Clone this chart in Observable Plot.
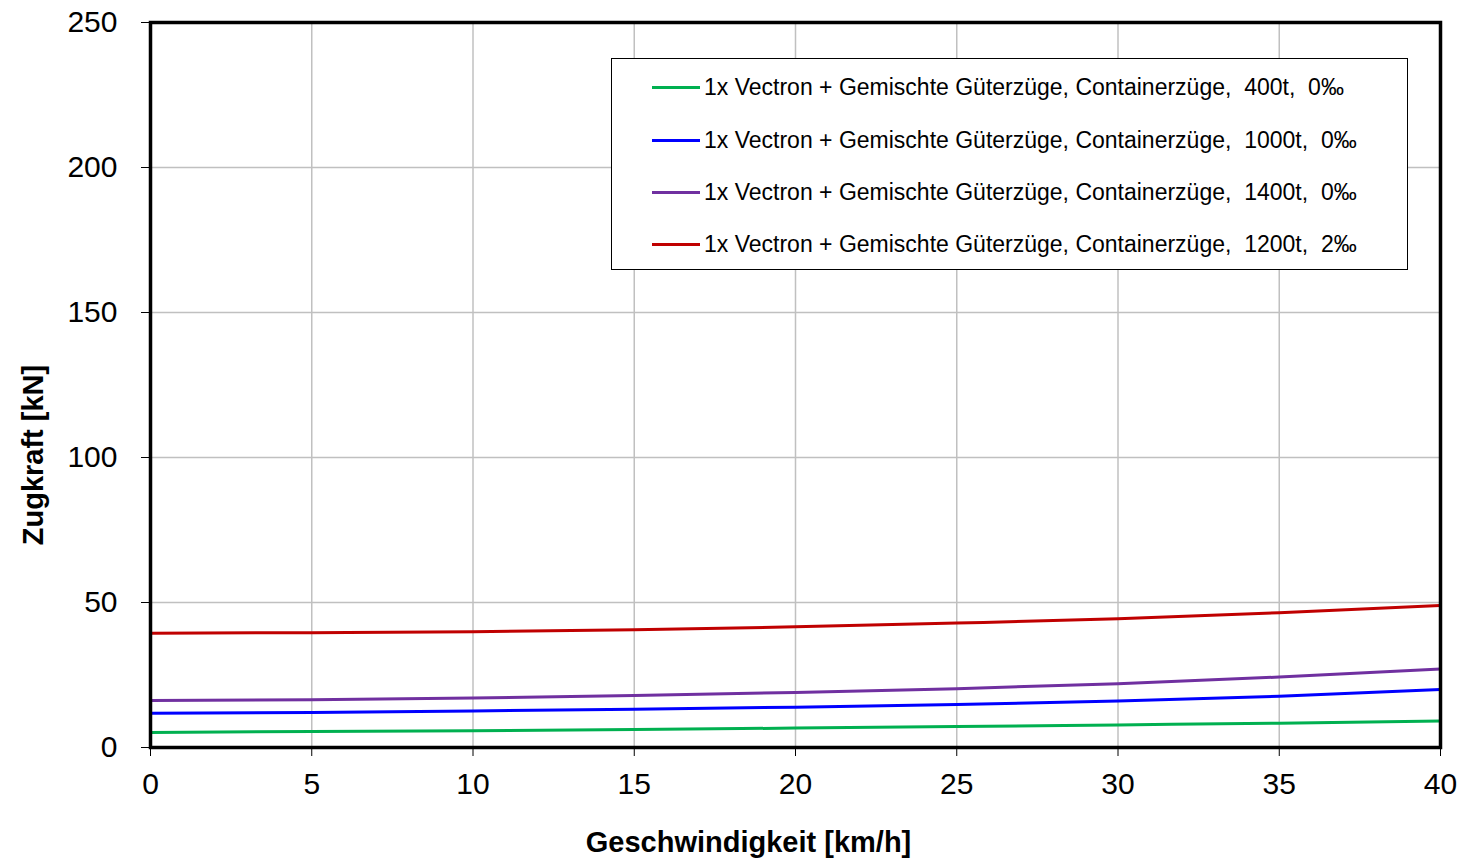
<!DOCTYPE html>
<html>
<head>
<meta charset="utf-8">
<script src="https://cdn.jsdelivr.net/npm/d3@7"></script>
<script src="https://cdn.jsdelivr.net/npm/@observablehq/plot@0.6"></script>
<style>
  html, body { margin: 0; padding: 0; background: #fff; }
  #wrap { position: relative; width: 1459px; height: 861px; font-family: "Liberation Sans", Arial, sans-serif; }
  #legend { position: absolute; left: 611px; top: 58px; width: 797px; height: 212px; border: 1px solid #000; background: #fff; box-sizing: border-box; }
  .item { position: absolute; left: 40px; display: flex; align-items: center; font-size: 23px; color: #000; white-space: nowrap; }
  .swatch { width: 48px; height: 3px; margin-right: 4px; }
  .axlabel { position: absolute; font-size: 29px; font-weight: bold; color: #000; white-space: nowrap; }
  #xlabel { left: 0; width: 1497px; top: 826px; text-align: center; }
  #ylabel { left: 33px; top: 455px; transform: translate(-50%, -50%) rotate(-90deg); }
</style>
</head>
<body>
<div id="wrap"><div id="chart"></div><div id="legend"></div>
<div class="axlabel" id="xlabel"></div><div class="axlabel" id="ylabel"></div></div>
<script>
const speeds = [0, 5, 10, 15, 20, 25, 30, 35, 40];
const seriesNames = [
  "1x Vectron + Gemischte Güterzüge, Containerzüge,  400t,  0‰",
  "1x Vectron + Gemischte Güterzüge, Containerzüge,  1000t,  0‰",
  "1x Vectron + Gemischte Güterzüge, Containerzüge,  1400t,  0‰",
  "1x Vectron + Gemischte Güterzüge, Containerzüge,  1200t,  2‰"
];
const seriesColors = ["#00b050", "#0000ff", "#7030a0", "#c00000"];
const force400 = [5.2, 5.5, 5.8, 6.2, 6.7, 7.2, 7.8, 8.4, 9.1];
const force1000 = [11.8, 12.1, 12.6, 13.2, 13.9, 14.8, 16.0, 17.7, 20.0];
const force1400 = [16.2, 16.5, 17.1, 17.9, 19.0, 20.3, 22.0, 24.3, 27.1];
const force1200 = [39.4, 39.6, 39.9, 40.6, 41.6, 42.9, 44.4, 46.5, 49.0];
const xTicks = [0, 5, 10, 15, 20, 25, 30, 35, 40];
const yTicks = [0, 50, 100, 150, 200, 250];
const xLabel = "Geschwindigkeit [km/h]";
const yLabel = "Zugkraft [kN]";

const allForces = [force400, force1000, force1400, force1200];
const data = [];
allForces.forEach((arr, i) => arr.forEach((f, j) => data.push({series: seriesNames[i], v: speeds[j], f})));

const chart = Plot.plot({
  width: 1459,
  height: 861,
  marginLeft: 150,
  marginRight: 19,
  marginTop: 22,
  marginBottom: 114,
  style: { fontFamily: "Liberation Sans, Arial, sans-serif", fontSize: "30px", color: "#000", background: "#fff" },
  x: { domain: [0, 40] },
  y: { domain: [0, 250] },
  color: { domain: seriesNames, range: seriesColors },
  marks: [
    Plot.gridX(xTicks, { stroke: "#c0c0c0", strokeOpacity: 1, strokeWidth: 1.5 }),
    Plot.gridY(yTicks, { stroke: "#c0c0c0", strokeOpacity: 1, strokeWidth: 1.5 }),
    Plot.axisX({ ticks: xTicks, tickSize: 9, tickPadding: 16, fontSize: 30, label: null }),
    Plot.axisY({ ticks: yTicks, tickSize: 9, tickPadding: 24, fontSize: 30, label: null }),
    Plot.line(data, { x: "v", y: "f", z: "series", stroke: "series", strokeWidth: 3, curve: "monotone-x" }),
    Plot.frame({ stroke: "#000", strokeWidth: 3.5 })
  ]
});
document.getElementById("chart").appendChild(chart);
document.getElementById("xlabel").textContent = xLabel;
document.getElementById("ylabel").textContent = yLabel;

const legend = document.getElementById("legend");
const tops = [15, 68, 120, 172];
seriesNames.forEach((name, i) => {
  const item = document.createElement("div");
  item.className = "item";
  item.style.top = tops[i] + "px";
  item.style.height = "26px";
  const sw = document.createElement("span");
  sw.className = "swatch";
  sw.style.background = seriesColors[i];
  const tx = document.createElement("span");
  tx.textContent = name;
  tx.style.whiteSpace = "pre";
  item.appendChild(sw);
  item.appendChild(tx);
  legend.appendChild(item);
});
</script>
</body>
</html>
